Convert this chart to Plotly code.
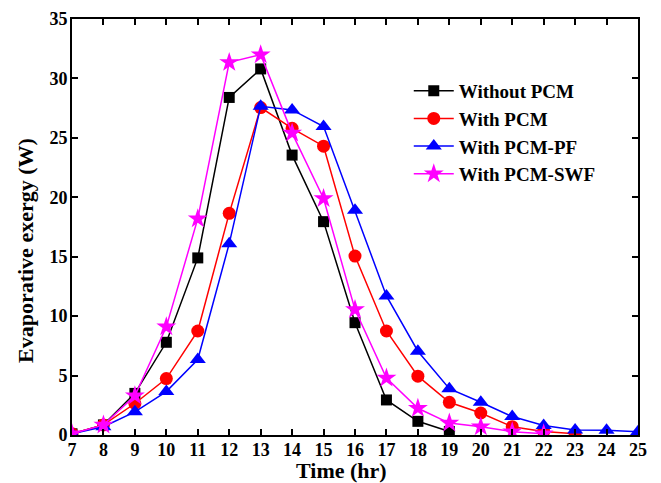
import plotly.graph_objects as go

hours_black = [7, 8, 9, 10, 11, 12, 13, 14, 15, 16, 17, 18, 19]
without_pcm = [0.1, 0.85, 3.5, 7.8, 14.9, 28.4, 30.8, 23.55, 17.95, 9.45, 2.95, 1.15, 0.3]

hours_red = [7, 8, 9, 10, 11, 12, 13, 14, 15, 16, 17, 18, 19, 20, 21, 22, 23]
with_pcm = [0.1, 0.85, 2.65, 4.75, 8.75, 18.65, 27.55, 25.8, 24.3, 15.05, 8.75, 4.95, 2.75, 1.85, 0.7, 0.3, 0.1]

hours_blue = [7, 8, 9, 10, 11, 12, 13, 14, 15, 16, 17, 18, 19, 20, 21, 22, 23, 24, 25]
with_pcm_pf = [0.1, 0.7, 1.95, 3.65, 6.35, 16.1, 27.65, 27.35, 25.95, 18.9, 11.7, 7.05, 3.9, 2.75, 1.55, 0.8, 0.42, 0.4, 0.28]

hours_mag = [7, 8, 9, 10, 11, 12, 13, 14, 15, 16, 17, 18, 19, 20, 21, 22]
with_pcm_swf = [0.1, 0.85, 3.3, 9.1, 18.2, 31.35, 32.0, 25.4, 19.9, 10.55, 4.8, 2.25, 1.0, 0.7, 0.28, 0.1]

x_ticks = list(range(7, 26))
y_ticks = [0, 5, 10, 15, 20, 25, 30, 35]

FONT = "Liberation Serif"

fig = go.Figure()
fig.add_trace(go.Scatter(x=hours_black, y=without_pcm, name="<b>Without PCM</b>", mode="lines+markers",
                         line=dict(color="black", width=1.5),
                         marker=dict(symbol="square", size=11, color="black")))
fig.add_trace(go.Scatter(x=hours_red, y=with_pcm, name="<b>With PCM</b>", mode="lines+markers",
                         line=dict(color="red", width=1.5),
                         marker=dict(symbol="circle", size=13, color="red")))
fig.add_trace(go.Scatter(x=hours_blue, y=with_pcm_pf, name="<b>With PCM-PF</b>", mode="lines+markers",
                         line=dict(color="blue", width=1.5),
                         marker=dict(symbol="triangle-up", size=14, color="blue")))
fig.add_trace(go.Scatter(x=hours_mag, y=with_pcm_swf, name="<b>With PCM-SWF</b>", mode="lines+markers",
                         line=dict(color="magenta", width=1.5),
                         marker=dict(symbol="star", size=15, color="magenta")))

axis_common = dict(showline=True, linecolor="black", linewidth=2, mirror="ticks",
                   ticks="inside", ticklen=6, tickwidth=1.5, tickcolor="black",
                   showgrid=False, zeroline=False, automargin=False,
                   tickfont=dict(family=FONT, size=18, color="black"))

fig.update_xaxes(range=[7, 25], tickvals=x_ticks, ticktext=["<b>%d</b>" % v for v in x_ticks],
                 ticklabelstandoff=-3, **axis_common)
fig.update_yaxes(range=[0, 35], tickvals=y_ticks, ticktext=["<b>%d</b>" % v for v in y_ticks],
                 ticklabelstandoff=-1, **axis_common)

fig.add_annotation(text="<b>Time (hr)</b>", xref="paper", yref="paper", x=(341 - 72) / 566, y=-(471 - 435) / 416,
                   xanchor="center", yanchor="middle", showarrow=False,
                   font=dict(family=FONT, size=22, color="black"))
fig.add_annotation(text="<b>Evaporative exergy (W)</b>", xref="paper", yref="paper",
                   x=-(72 - 25) / 566, y=(435 - 251) / 416, textangle=-90,
                   xanchor="center", yanchor="middle", showarrow=False,
                   font=dict(family=FONT, size=22, color="black"))

fig.update_layout(
    width=661, height=483,
    margin=dict(l=72, r=23, t=19, b=48),
    plot_bgcolor="white", paper_bgcolor="white",
    legend=dict(x=0.595, y=0.873, xanchor="left", yanchor="top",
                font=dict(family=FONT, size=19, color="black"),
                bgcolor="rgba(0,0,0,0)", tracegroupgap=0, itemwidth=40),
    showlegend=True,
)

fig.write_html("out.html", config={"displayModeBar": False},
               post_script="document.body.style.margin='0';document.body.style.overflow='hidden';")
